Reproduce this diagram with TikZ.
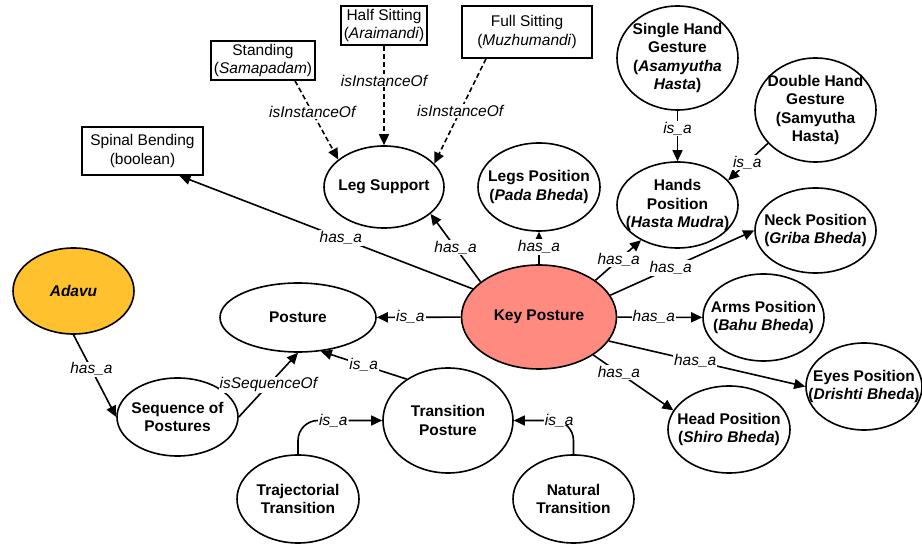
\documentclass[tikz,border=0pt]{standalone}
\usepackage{fontspec}
\setmainfont{Liberation Sans}
\usepackage{xcolor}
\usepackage{tikz}
\usetikzlibrary{arrows.meta,shapes.geometric}
\definecolor{keysalmon}{RGB}{255,138,128}
\definecolor{adavugold}{RGB}{255,193,46}

\begin{document}
\begin{tikzpicture}[x=1pt,y=-1pt,
  concept/.style={draw, ellipse, line width=1.6pt, inner xsep=-16pt, inner ysep=-6pt, align=center, font=\fontsize{15.5}{18.5}\selectfont\bfseries},
  valuebox/.style={draw, rectangle, line width=1.6pt, inner sep=0pt, align=center, font=\fontsize{15.5}{18.5}\selectfont},
  rel/.style={line width=1.6pt, -{Triangle[length=11pt,width=10pt]}},
  inst/.style={rel, dash pattern=on 5pt off 3pt},
  lbl/.style={fill=white, inner sep=1pt, font=\fontsize{15.5}{18}\selectfont\itshape}]
\useasboundingbox (0,0) rectangle (922,545);

\node (spinal) at (142.5,151) [valuebox, minimum width=121pt, minimum height=48pt] {Spinal Bending\\(boolean)};
\node (standing) at (263,60.5) [valuebox, minimum width=104pt, minimum height=39pt] {Standing\\(\textit{Samapadam})};
\node (half) at (384,25.5) [valuebox, minimum width=86pt, minimum height=39pt] {Half Sitting\\(\textit{Araimandi})};
\node (full) at (527,32) [valuebox, minimum width=130pt, minimum height=52pt] {Full Sitting\\(\textit{Muzhumandi})};

\node (leg) at (384,187) [concept, minimum width=120pt, minimum height=82pt] {Leg Support};
\node (legs) at (539,187) [concept, minimum width=122pt, minimum height=88pt] {Legs Position\\(\textit{Pada Bheda})};
\node (single) at (677.5,58) [concept, minimum width=121pt, minimum height=104pt] {Single Hand\\Gesture\\(\textit{Asamyutha}\\\textit{Hasta})};
\node (double) at (815.5,110) [concept, minimum width=121pt, minimum height=104pt] {Double Hand\\Gesture\\(Samyutha\\Hasta)};
\node (hands) at (677.5,205) [concept, minimum width=121pt, minimum height=86pt] {Hands\\Position\\(\textit{Hasta Mudra})};
\node (neck) at (815.5,230.5) [concept, minimum width=121pt, minimum height=85pt] {Neck Position\\(\textit{Griba Bheda})};

\node (kp) at (539,317) [concept, fill=keysalmon, minimum width=155pt, minimum height=104pt] {Key Posture};
\node (arms) at (763.5,317.5) [concept, minimum width=121pt, minimum height=87pt] {Arms Position\\(\textit{Bahu Bheda})};
\node (eyes) at (864,386.5) [concept, minimum width=116pt, minimum height=87pt] {Eyes Position\\(\textit{Drishti Bheda})};
\node (head) at (729,429.5) [concept, minimum width=122pt, minimum height=87pt] {Head Position\\(\textit{Shiro Bheda})};

\node (adavu) at (73.5,291) [concept, fill=adavugold, minimum width=121pt, minimum height=86pt] {\textit{Adavu}};
\node (posture) at (298,317.5) [concept, minimum width=156pt, minimum height=69pt] {Posture};
\node (seq) at (177.5,417) [concept, minimum width=121pt, minimum height=78pt] {Sequence of\\Postures};
\node (trans) at (448,420.5) [concept, minimum width=130pt, minimum height=105pt] {Transition\\Posture};
\node (traj) at (298,499) [concept, minimum width=122pt, minimum height=88pt] {Trajectorial\\Transition};
\node (natural) at (573.5,499) [concept, minimum width=121pt, minimum height=88pt] {Natural\\Transition};

\draw [inst] ([xshift=32pt]standing.south) -- (leg.149) node [lbl, pos=.4] {isInstanceOf};
\draw [inst] (half) -- (leg) node [lbl, pos=.35] {isInstanceOf};
\draw [inst] ([xshift=-41pt]full.south) -- (leg.25) node [lbl, pos=.5] {isInstanceOf};

\draw [rel] (kp.157) -- ([xshift=37pt]spinal.south) node [lbl, pos=.45] {has\_a};
\draw [rel] (kp.149) -- (leg.-30) node [lbl, pos=.5] {has\_a};
\draw [rel] (kp) -- (legs) node [lbl, pos=.53] {has\_a};
\draw [rel] (kp.33) -- (hands.-136) node [lbl, pos=.51] {has\_a};
\draw [rel] (kp.17) -- (neck.west) node [lbl, pos=.42] {has\_a};
\draw [rel] (kp) -- (arms) node [lbl, pos=.43] {has\_a};
\draw [rel] (kp.-19) -- (eyes.west) node [lbl, pos=.44] {has\_a};
\draw [rel] (kp.-35) -- (head.161) node [lbl, pos=.32] {has\_a};

\draw [rel] (single) -- (hands) node [lbl, pos=.35] {is\_a};
\draw [rel] (double.215) -- (hands.26) node [lbl, pos=.52] {is\_a};

\draw [rel] (kp) -- (posture) node [lbl, pos=.6] {is\_a};
\draw [rel] (trans.135) -- (posture.-56) node [lbl, pos=.5] {is\_a};
\draw [rel, rounded corners=20pt] (traj) |- (trans) node [lbl, pos=.71] {is\_a};
\draw [rel, rounded corners=20pt] (natural) |- (trans) node [lbl, pos=.62] {is\_a};

\draw [rel] (adavu.south) -- (seq.west) node [lbl, pos=.42] {has\_a};
\draw [rel] (seq.east) -- (posture.south) node [lbl, pos=.5] {isSequenceOf};
\end{tikzpicture}
\end{document}
